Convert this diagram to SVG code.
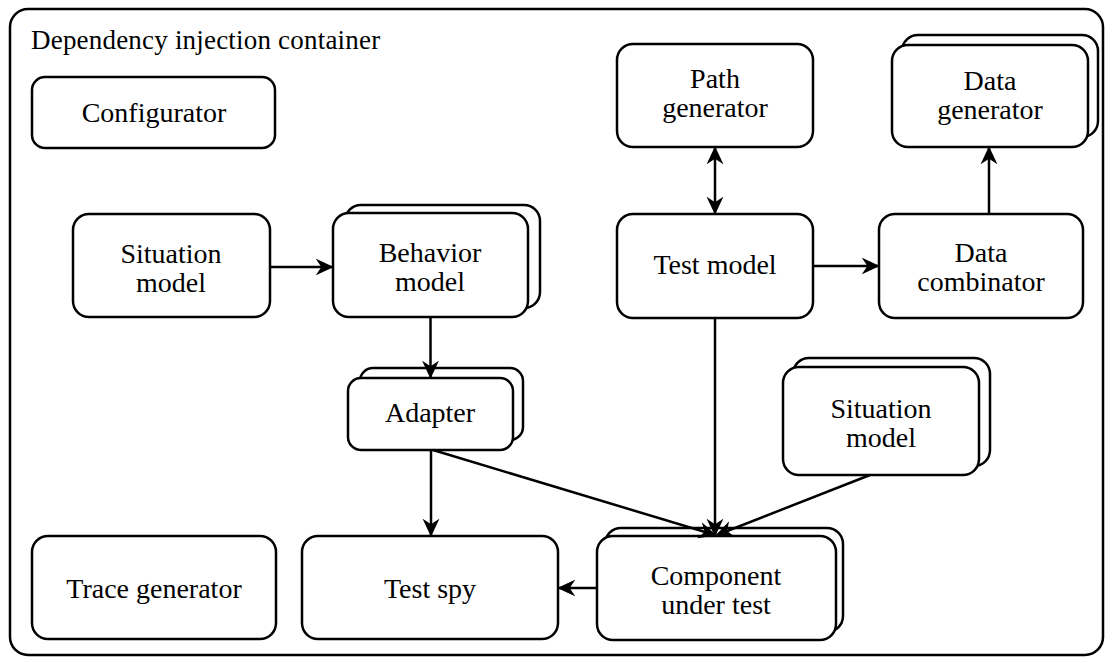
<svg xmlns="http://www.w3.org/2000/svg" width="1112" height="663" viewBox="0 0 1112 663">
<style>
.box{fill:#fff;stroke:#000;stroke-width:2.5}
.lbl{font-family:"Liberation Serif","Times New Roman",serif;font-size:28px;fill:#000;text-anchor:middle}
.title{font-family:"Liberation Serif","Times New Roman",serif;font-size:27px;fill:#000;letter-spacing:0.2px}
.edge{fill:none;stroke:#000;stroke-width:2.5}
</style>
<defs>
<marker id="arr" markerUnits="userSpaceOnUse" markerWidth="18" markerHeight="18" viewBox="0 0 16 16" refX="14.5" refY="8" orient="auto-start-reverse">
<path d="M0,0.5 L16,8 L0,15.5 L5,8 z" fill="#000"/>
</marker>
</defs>
<rect x="10" y="9" width="1093" height="646" rx="18" class="box"/>
<text x="31" y="49" class="title">Dependency injection container</text>

<g id="configurator">
<rect x="32" y="77" width="243" height="71" rx="13" class="box"/>
<text x="154" y="122" class="lbl">Configurator</text>
</g>
<g id="situation-model-left">
<rect x="73" y="214" width="197" height="103" rx="16" class="box"/>
<text x="171" y="263" class="lbl">Situation</text>
<text x="171" y="292" class="lbl">model</text>
</g>
<g id="behavior-model">
<rect x="345" y="205" width="195" height="103" rx="16" class="box"/>
<rect x="333" y="213" width="195" height="104" rx="16" class="box"/>
<text x="430" y="262" class="lbl">Behavior</text>
<text x="430" y="291" class="lbl">model</text>
</g>
<g id="adapter">
<rect x="360" y="368" width="163" height="72" rx="13" class="box"/>
<rect x="348" y="378" width="165" height="72" rx="13" class="box"/>
<text x="430" y="422" class="lbl">Adapter</text>
</g>
<g id="trace-generator">
<rect x="32" y="536" width="244" height="103" rx="16" class="box"/>
<text x="154" y="598" class="lbl">Trace generator</text>
</g>
<g id="test-spy">
<rect x="302" y="536" width="256" height="103" rx="16" class="box"/>
<text x="430" y="598" class="lbl">Test spy</text>
</g>
<g id="component-under-test">
<rect x="605" y="528" width="238" height="104" rx="16" class="box"/>
<rect x="597" y="536" width="239" height="104" rx="16" class="box"/>
<text x="716" y="585" class="lbl">Component</text>
<text x="716" y="614" class="lbl">under test</text>
</g>
<g id="path-generator">
<rect x="617" y="44" width="196" height="103" rx="16" class="box"/>
<text x="715" y="88" class="lbl">Path</text>
<text x="715" y="117" class="lbl">generator</text>
</g>
<g id="data-generator">
<rect x="902" y="35" width="196" height="102" rx="16" class="box"/>
<rect x="892" y="45" width="196" height="102" rx="16" class="box"/>
<text x="990" y="90" class="lbl">Data</text>
<text x="990" y="119" class="lbl">generator</text>
</g>
<g id="test-model">
<rect x="617" y="214" width="196" height="104" rx="16" class="box"/>
<text x="715" y="274" class="lbl">Test model</text>
</g>
<g id="data-combinator">
<rect x="879" y="214" width="204" height="104" rx="16" class="box"/>
<text x="981" y="262" class="lbl">Data</text>
<text x="981" y="291" class="lbl">combinator</text>
</g>
<g id="situation-model-right">
<rect x="793" y="358" width="197" height="108" rx="16" class="box"/>
<rect x="783" y="367" width="196" height="108" rx="16" class="box"/>
<text x="881" y="418" class="lbl">Situation</text>
<text x="881" y="447" class="lbl">model</text>
</g>

<g id="connectors">
<path d="M270,267 L332,267" class="edge" marker-end="url(#arr)"/>
<path d="M430.5,317 L430.5,377" class="edge" marker-end="url(#arr)"/>
<path d="M431,450 L431,535" class="edge" marker-end="url(#arr)"/>
<path d="M433,450 L715,535" class="edge" marker-end="url(#arr)"/>
<path d="M715,318 L715,535" class="edge" marker-end="url(#arr)"/>
<path d="M870,475 L717,535" class="edge" marker-end="url(#arr)"/>
<path d="M715,148 L715,213" class="edge" marker-start="url(#arr)" marker-end="url(#arr)"/>
<path d="M813,266 L878,266" class="edge" marker-end="url(#arr)"/>
<path d="M989,214 L989,148" class="edge" marker-end="url(#arr)"/>
<path d="M597,588 L559,588" class="edge" marker-end="url(#arr)"/>
</g>
</svg>
